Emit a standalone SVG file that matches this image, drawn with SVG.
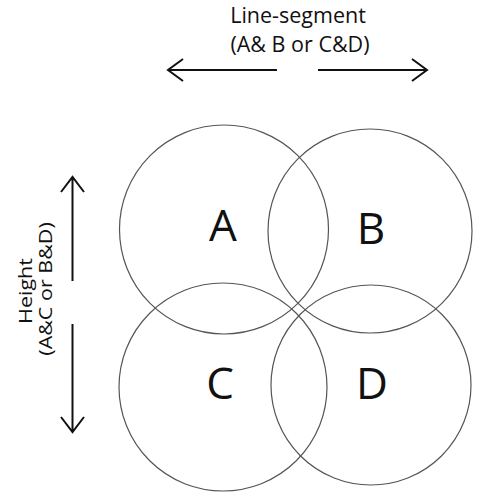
<svg xmlns="http://www.w3.org/2000/svg" width="479" height="495" viewBox="0 0 479 495">
<style>
.c{fill:none;stroke:#555;stroke-width:1.2}
.lbl{font-family:"Open Sans","Liberation Sans",sans-serif;font-size:44px;fill:#111;text-anchor:middle}
.t{font-family:"Open Sans","Liberation Sans",sans-serif;font-size:21.5px;fill:#111;text-anchor:middle}
.a{fill:none;stroke:#111;stroke-width:2}
</style>
<rect width="479" height="495" fill="#fff"/>
<g id="A"><circle class="c" cx="224" cy="229.5" r="104.5"/><text class="lbl" x="223" y="241">A</text></g>
<g id="B"><circle class="c" cx="370" cy="231" r="102"/><text class="lbl" x="371" y="244">B</text></g>
<g id="C"><circle class="c" cx="223" cy="387" r="104"/><text class="lbl" x="220" y="399">C</text></g>
<g id="D"><circle class="c" cx="371" cy="385" r="100"/><text class="lbl" x="372" y="399">D</text></g>
<g id="title">
<text class="t" x="298" y="23">Line-segment</text>
<text class="t" x="300" y="52">(A&amp; B or C&amp;D)</text>
</g>
<g id="side">
<text class="t" transform="translate(32,291) rotate(-90) scale(1,0.85)">Height</text>
<text class="t" transform="translate(52,289) rotate(-90) scale(1,0.85)">(A&amp;C or B&amp;D)</text>
</g>
<g id="connectors">
<path class="a" d="M168,70 H277 M183,59 L168,70 L183,81"/>
<path class="a" d="M318,70 H427 M412,59 L427,70 L412,81"/>
<path class="a" d="M72.5,177 V281 M61,192 L72.5,177 L84,192"/>
<path class="a" d="M72.5,324 V432 M61,417 L72.5,432 L84,417"/>
</g>
</svg>
